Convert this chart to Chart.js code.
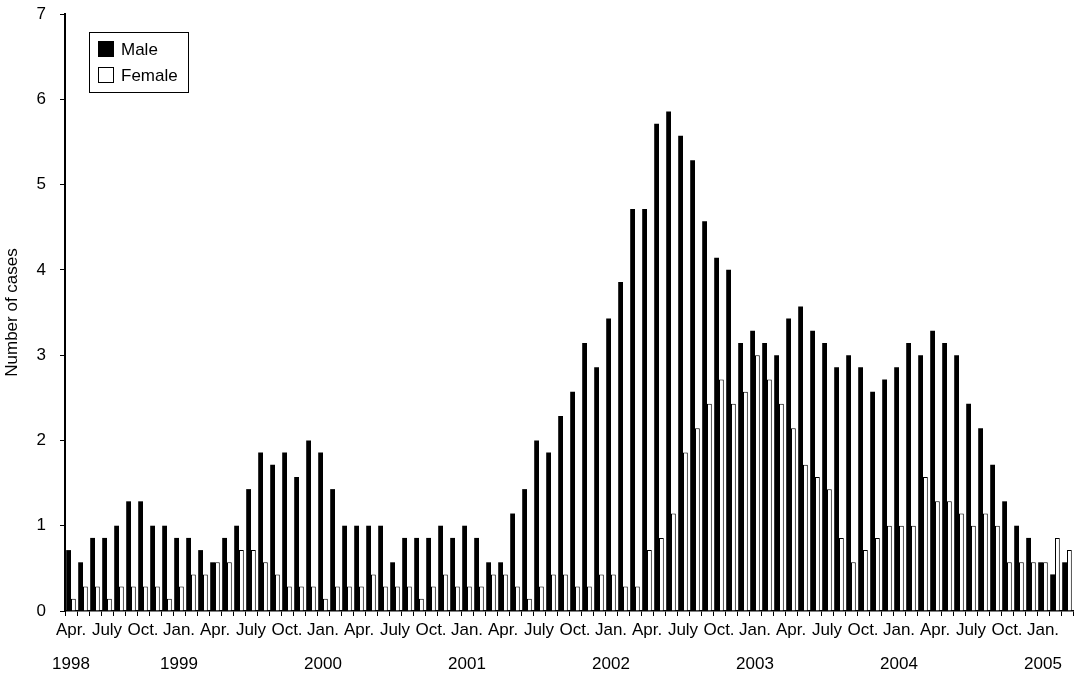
<!DOCTYPE html>
<html>
<head>
<meta charset="utf-8">
<script src="https://cdn.jsdelivr.net/npm/chart.js@4"></script>
<style>
  html, body { margin: 0; padding: 0; background: #fff; }
</style>
</head>
<body>
<canvas id="casesChart" width="1075" height="675"></canvas>
<script>
// monthly categories, Apr 1998 - Mar 2005
const months = [
  'Apr 1998', 'May 1998', 'Jun 1998', 'Jul 1998', 'Aug 1998', 'Sep 1998', 'Oct 1998', 'Nov 1998', 'Dec 1998', 'Jan 1999', 'Feb 1999', 'Mar 1999',
  'Apr 1999', 'May 1999', 'Jun 1999', 'Jul 1999', 'Aug 1999', 'Sep 1999', 'Oct 1999', 'Nov 1999', 'Dec 1999', 'Jan 2000', 'Feb 2000', 'Mar 2000',
  'Apr 2000', 'May 2000', 'Jun 2000', 'Jul 2000', 'Aug 2000', 'Sep 2000', 'Oct 2000', 'Nov 2000', 'Dec 2000', 'Jan 2001', 'Feb 2001', 'Mar 2001',
  'Apr 2001', 'May 2001', 'Jun 2001', 'Jul 2001', 'Aug 2001', 'Sep 2001', 'Oct 2001', 'Nov 2001', 'Dec 2001', 'Jan 2002', 'Feb 2002', 'Mar 2002',
  'Apr 2002', 'May 2002', 'Jun 2002', 'Jul 2002', 'Aug 2002', 'Sep 2002', 'Oct 2002', 'Nov 2002', 'Dec 2002', 'Jan 2003', 'Feb 2003', 'Mar 2003',
  'Apr 2003', 'May 2003', 'Jun 2003', 'Jul 2003', 'Aug 2003', 'Sep 2003', 'Oct 2003', 'Nov 2003', 'Dec 2003', 'Jan 2004', 'Feb 2004', 'Mar 2004',
  'Apr 2004', 'May 2004', 'Jun 2004', 'Jul 2004', 'Aug 2004', 'Sep 2004', 'Oct 2004', 'Nov 2004', 'Dec 2004', 'Jan 2005', 'Feb 2005', 'Mar 2005'
];

const male = [
  0.714, 0.571, 0.857, 0.857, 1.0, 1.286, 1.286, 1.0, 1.0, 0.857, 0.857, 0.714,
  0.571, 0.857, 1.0, 1.429, 1.857, 1.714, 1.857, 1.571, 2.0, 1.857, 1.429, 1.0,
  1.0, 1.0, 1.0, 0.571, 0.857, 0.857, 0.857, 1.0, 0.857, 1.0, 0.857, 0.571,
  0.571, 1.143, 1.429, 2.0, 1.857, 2.286, 2.571, 3.143, 2.857, 3.429, 3.857, 4.714,
  4.714, 5.714, 5.857, 5.571, 5.286, 4.571, 4.143, 4.0, 3.143, 3.286, 3.143, 3.0,
  3.429, 3.571, 3.286, 3.143, 2.857, 3.0, 2.857, 2.571, 2.714, 2.857, 3.143, 3.0,
  3.286, 3.143, 3.0, 2.429, 2.143, 1.714, 1.286, 1.0, 0.857, 0.571, 0.429, 0.571
];

const female = [
  0.143, 0.286, 0.286, 0.143, 0.286, 0.286, 0.286, 0.286, 0.143, 0.286, 0.429, 0.429,
  0.571, 0.571, 0.714, 0.714, 0.571, 0.429, 0.286, 0.286, 0.286, 0.143, 0.286, 0.286,
  0.286, 0.429, 0.286, 0.286, 0.286, 0.143, 0.286, 0.429, 0.286, 0.286, 0.286, 0.429,
  0.429, 0.286, 0.143, 0.286, 0.429, 0.429, 0.286, 0.286, 0.429, 0.429, 0.286, 0.286,
  0.714, 0.857, 1.143, 1.857, 2.143, 2.429, 2.714, 2.429, 2.571, 3.0, 2.714, 2.429,
  2.143, 1.714, 1.571, 1.429, 0.857, 0.571, 0.714, 0.857, 1.0, 1.0, 1.0, 1.571,
  1.286, 1.286, 1.143, 1.0, 1.143, 1.0, 0.571, 0.571, 0.571, 0.571, 0.857, 0.714
];

// month tick text shown every quarter
const monthTicks = { Apr: 'Apr.', Jul: 'July', Oct: 'Oct.', Jan: 'Jan.' };

const FONT = '"Liberation Sans", Arial, Helvetica, sans-serif';

// legend drawn as a framed box inside the plot, top left
const boxLegend = {
  id: 'boxLegend',
  afterDraw(chart) {
    const ctx = chart.ctx;
    ctx.save();
    ctx.strokeStyle = '#000';
    ctx.lineWidth = 1;
    ctx.strokeRect(89.5, 32.5, 99, 60);
    ctx.font = '17px ' + FONT;
    ctx.textBaseline = 'middle';
    chart.data.datasets.forEach((ds, i) => {
      const y = 41 + i * 26;
      ctx.fillStyle = ds.backgroundColor;
      ctx.fillRect(98, y, 16, 16);
      ctx.strokeRect(98.5, y + 0.5, 15, 15);
      ctx.fillStyle = '#000';
      ctx.fillText(ds.label, 121, y + 9);
    });
    ctx.restore();
  }
};

new Chart(document.getElementById('casesChart'), {
  type: 'bar',
  data: {
    labels: months,
    datasets: [
      { label: 'Male', data: male, backgroundColor: '#000', borderWidth: 0 },
      { label: 'Female', data: female, backgroundColor: '#fff', borderColor: '#000', borderWidth: 1 }
    ]
  },
  options: {
    responsive: false,
    animation: false,
    events: [],
    layout: { padding: { top: 14, right: 2, left: 0, bottom: 0 } },
    datasets: { bar: { categoryPercentage: 0.8, barPercentage: 1.0 } },
    plugins: { legend: { display: false }, tooltip: { enabled: false } },
    scales: {
      x: {
        offset: true,
        afterFit: scale => {
          scale.height = 64;
          scale.paddingLeft = 0;
          scale.paddingRight = 0;
        },
        grid: { display: true, drawOnChartArea: false, offset: true, tickLength: 5, color: '#000', lineWidth: 1 },
        border: { display: true, color: '#000', width: 1.5 },
        ticks: {
          autoSkip: false,
          maxRotation: 0,
          minRotation: 0,
          padding: -3,
          color: '#000',
          font: { family: FONT, size: 17, lineHeight: 2 },
          callback: (value, index) => {
            const [m, y] = months[index].split(' ');
            const label = monthTicks[m];
            if (!label) return '';
            if (m === 'Jan' || index === 0) return [label, y];
            return label;
          }
        }
      },
      y: {
        min: 0,
        max: 7,
        afterFit: scale => {
          scale.width = 65;
          scale.paddingTop = 0;
          scale.paddingBottom = 0;
        },
        grid: { display: true, drawOnChartArea: false, tickLength: 5, color: '#000', lineWidth: 1 },
        border: { display: true, color: '#000', width: 2 },
        ticks: { stepSize: 1, padding: 14, color: '#000', font: { family: FONT, size: 17 } },
        title: {
          display: true,
          text: 'Number of cases',
          color: '#000',
          padding: { top: 2, bottom: 0 },
          font: { family: FONT, size: 17 }
        }
      }
    }
  },
  plugins: [boxLegend]
});
</script>
</body>
</html>
